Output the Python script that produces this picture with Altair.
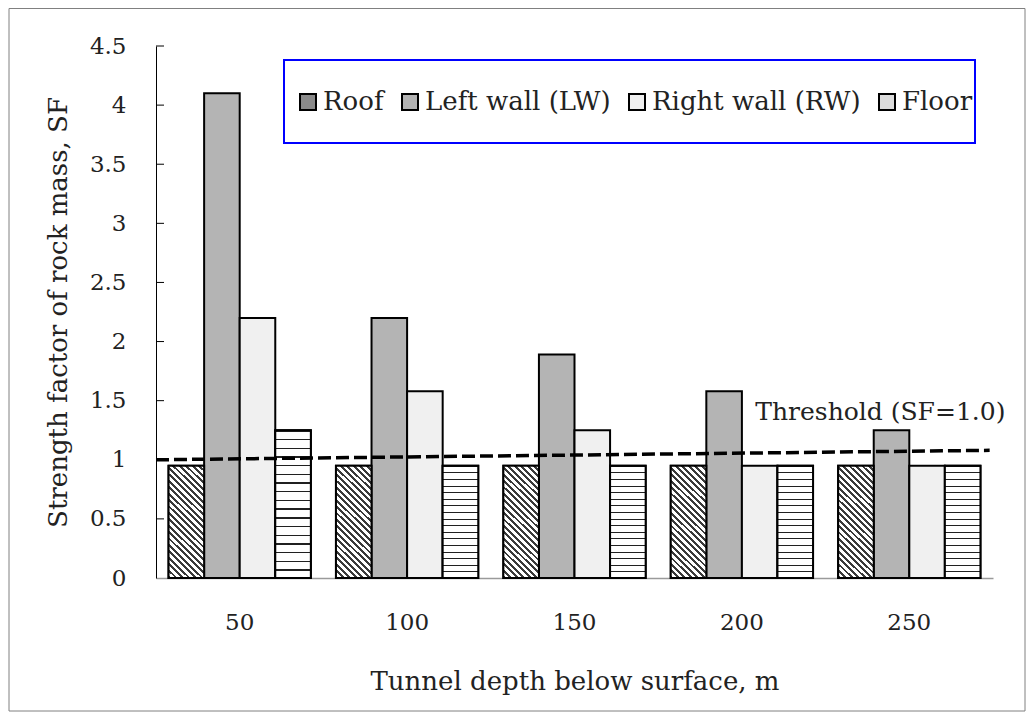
import altair as alt
import pandas as pd

# ---------------- data ----------------
depths = [50, 100, 150, 200, 250]
series = ["Roof", "Left wall (LW)", "Right wall (RW)", "Floor"]
roof = [0.95, 0.95, 0.95, 0.95, 0.95]
left_wall = [4.10, 2.20, 1.89, 1.58, 1.25]
right_wall = [2.20, 1.58, 1.25, 0.95, 0.95]
floor = [1.25, 0.95, 0.95, 0.95, 0.95]
y_ticks = [0, 0.5, 1, 1.5, 2, 2.5, 3, 3.5, 4, 4.5]

threshold_depth = [25, 274]
threshold_sf = [1.00, 1.08]
threshold_label = ["Threshold (SF=1.0)"]
threshold_label_depth = [204]
threshold_label_sf = [1.40]

FONT = "DejaVu Serif"
TXT = "#222222"

values_by_series = dict(zip(series, [roof, left_wall, right_wall, floor]))
rows = []
for s in series:
    for d, v in zip(depths, values_by_series[s]):
        rows.append({"depth": d, "series": s, "sf": v})
df = pd.DataFrame(rows)


def stripes(n, frac, line, bg, x1, y1, x2, y2):
    stops = []
    for k in range(n):
        a = k / n
        b = (k + frac) / n
        c = (k + 1) / n
        stops += [
            {"offset": a, "color": line},
            {"offset": b, "color": line},
            {"offset": b, "color": bg},
            {"offset": c, "color": bg},
        ]
    return {"gradient": "linear", "x1": x1, "y1": y1, "x2": x2, "y2": y2, "stops": stops}


roof_fill = stripes(23, 0.45, "#3a3a3a", "#ffffff", 0, 1, 0.3736, -0.1957)
floor_fill = stripes(17, 0.16, "#202020", "#ffffff", 0, 0, 0, 1)

# ---------------- encodings ----------------
y_enc = alt.Y(
    "sf:Q",
    scale=alt.Scale(domain=[0, 4.5], nice=False, zero=True),
    axis=alt.Axis(
        values=y_ticks,
        format="~g",
        title="Strength factor of rock mass, SF",
        grid=False,
        ticks=False,
        tickSize=0,
        domainColor="#000000",
        domainWidth=1,
        labelFont=FONT,
        labelFontSize=23,
        labelColor=TXT,
        labelPadding=30,
        titleFont=FONT,
        titleFontSize=26,
        titleFontWeight="normal",
        titleColor=TXT,
        titlePadding=18,
    ),
)

x_enc = alt.X(
    "depth:O",
    scale=alt.Scale(paddingInner=0.15, paddingOuter=0.075),
    axis=alt.Axis(
        title="Tunnel depth below surface, m",
        labelAngle=0,
        grid=False,
        ticks=False,
        tickSize=0,
        domainColor="#9a9a9a",
        domainWidth=1.5,
        labelFont=FONT,
        labelFontSize=23,
        labelColor=TXT,
        labelPadding=33,
        titleFont=FONT,
        titleFontSize=26,
        titleFontWeight="normal",
        titleColor=TXT,
        titlePadding=34,
    ),
)

xoff_enc = alt.XOffset(
    "series:N", scale=alt.Scale(domain=series, paddingInner=0, paddingOuter=0)
)

base = alt.Chart(df).mark_bar(stroke="black", strokeWidth=2).encode(
    x=x_enc,
    xOffset=xoff_enc,
    y=y_enc,
    fill=alt.Fill(
        "series:N",
        scale=alt.Scale(domain=series, range=["#8a8a8a", "#b4b4b4", "#f0f0f0", "#dcdcdc"]),
        legend=alt.Legend(
            orient="none",
            legendX=139,
            legendY=43,
            direction="horizontal",
            title=None,
            symbolType="square",
            symbolSize=256,
            symbolStrokeColor="black",
            symbolStrokeWidth=2,
            labelFont=FONT,
            labelFontSize=26,
            labelColor=TXT,
            labelOffset=2,
            labelLimit=400,
            columnPadding=13,
            padding=0,
        ),
    ),
)

roof_layer = (
    alt.Chart(df)
    .transform_filter(alt.datum.series == "Roof")
    .mark_bar(fill=roof_fill, stroke="black", strokeWidth=2)
    .encode(x=x_enc, xOffset=xoff_enc, y=y_enc)
)
floor_layer = (
    alt.Chart(df)
    .transform_filter(alt.datum.series == "Floor")
    .mark_bar(fill=floor_fill, stroke="black", strokeWidth=2)
    .encode(x=x_enc, xOffset=xoff_enc, y=y_enc)
)

bars = alt.layer(base, roof_layer, floor_layer)

thr_x = alt.X("d:Q", scale=alt.Scale(domain=[25, 275], nice=False, zero=False), axis=None)
thr_df = pd.DataFrame({"d": threshold_depth, "sf": threshold_sf})
thr_line = alt.Chart(thr_df).mark_line(
    color="black", strokeWidth=3.5, strokeDash=[13, 5]
).encode(x=thr_x, y=y_enc)
lab_df = pd.DataFrame(
    {"d": threshold_label_depth, "sf": threshold_label_sf, "t": threshold_label}
)
thr_text = alt.Chart(lab_df).mark_text(
    align="left", baseline="middle", font=FONT, fontSize=25, color=TXT
).encode(x=thr_x, y=y_enc, text="t:N")
threshold = alt.layer(thr_line, thr_text)

tick_df = pd.DataFrame({"sf": y_ticks[1:]})
inner_ticks = alt.Chart(tick_df).mark_rule(color="black", strokeWidth=1).encode(
    y=y_enc, x=alt.value(0), x2=alt.value(8)
)

one = alt.Data(values=[{"k": 1}])
frame = alt.Chart(one).mark_rect(
    fill="white", fillOpacity=0, stroke="#808080", strokeWidth=1
).encode(x=alt.value(-147), x2=alt.value(869), y=alt.value(-37.5), y2=alt.value(665))
legend_box = alt.Chart(one).mark_rect(
    fill="white", stroke="#0000ff", strokeWidth=2
).encode(x=alt.value(128), x2=alt.value(819), y=alt.value(14), y2=alt.value(97))

chart = (
    alt.layer(frame, legend_box, bars, threshold, inner_ticks)
    .resolve_scale(x="independent")
    .properties(
        width=837,
        height=532,
        autosize=alt.AutoSizeParams(type="none"),
        padding={"left": 148, "top": 38, "right": 33, "bottom": 135},
        background="white",
    )
    .configure_view(strokeWidth=0)
)

chart.save("out.html", embed_options={"renderer": "svg", "actions": False})
